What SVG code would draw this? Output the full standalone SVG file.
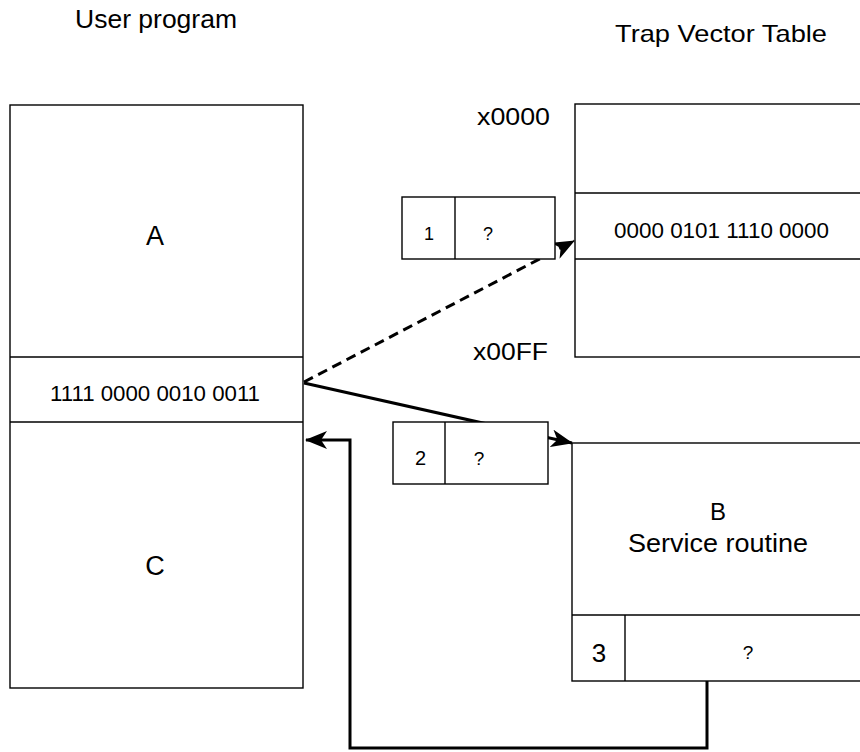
<svg xmlns="http://www.w3.org/2000/svg" width="860" height="752" viewBox="0 0 860 752">
<style>
.b{fill:#fff;stroke:#000;stroke-width:1.4}
.t{font-family:"Liberation Sans",Arial,sans-serif;fill:#000;text-anchor:middle}
.s{text-anchor:start}
.c{fill:none;stroke:#000;stroke-width:3}
</style>
<defs>
<marker id="ah" viewBox="0 0 22 18" refX="21" refY="9" markerWidth="22" markerHeight="18" orient="auto" markerUnits="userSpaceOnUse">
<path d="M0,0 L22,9 L0,18 L6,9 Z" fill="#000"/>
</marker>
</defs>
<rect width="860" height="752" fill="#fff"/>
<text class="t s" x="75" y="28" font-size="25" textLength="162" lengthAdjust="spacingAndGlyphs">User program</text>
<text class="t s" x="615" y="42" font-size="24" textLength="212" lengthAdjust="spacingAndGlyphs">Trap Vector Table</text>
<text class="t s" x="477" y="125" font-size="24" textLength="73" lengthAdjust="spacingAndGlyphs">x0000</text>
<text class="t s" x="473" y="360" font-size="24" textLength="75" lengthAdjust="spacingAndGlyphs">x00FF</text>
<g id="connectors">
<line class="c" x1="304" y1="382" x2="574" y2="241" stroke-dasharray="10,6" marker-end="url(#ah)"/>
<line class="c" x1="304" y1="383" x2="572" y2="443" marker-end="url(#ah)"/>
<path class="c" d="M707,681 V748 H350 V440 H306" marker-end="url(#ah)"/>
</g>
<g id="user-program">
<rect class="b" x="10" y="105" width="293" height="583"/>
<line class="b" x1="10" y1="357" x2="303" y2="357"/>
<line class="b" x1="10" y1="422" x2="303" y2="422"/>
<text class="t" x="155" y="245" font-size="27">A</text>
<text class="t s" x="50" y="401" font-size="22" textLength="210" lengthAdjust="spacingAndGlyphs">1111 0000 0010 0011</text>
<text class="t" x="155" y="575" font-size="27">C</text>
</g>
<g id="trap-vector-table">
<rect class="b" x="575" y="104" width="300" height="253"/>
<line class="b" x1="575" y1="193" x2="875" y2="193"/>
<line class="b" x1="575" y1="259" x2="875" y2="259"/>
<text class="t s" x="614" y="238" font-size="22" textLength="215" lengthAdjust="spacingAndGlyphs">0000 0101 1110 0000</text>
</g>
<g id="box1">
<rect class="b" x="402" y="197" width="153" height="62"/>
<line class="b" x1="455" y1="197" x2="455" y2="259"/>
<text class="t" x="429" y="240" font-size="18">1</text>
<text class="t" x="488" y="240" font-size="18">?</text>
</g>
<g id="box2">
<rect class="b" x="393" y="422" width="155" height="62"/>
<line class="b" x1="445" y1="422" x2="445" y2="484"/>
<text class="t" x="420.5" y="465" font-size="20">2</text>
<text class="t" x="479" y="465" font-size="19">?</text>
</g>
<g id="service-routine">
<rect class="b" x="572" y="443" width="300" height="238"/>
<line class="b" x1="572" y1="615" x2="872" y2="615"/>
<line class="b" x1="625" y1="615" x2="625" y2="681"/>
<text class="t" x="718" y="520" font-size="24">B</text>
<text class="t s" x="628" y="552" font-size="25" textLength="180" lengthAdjust="spacingAndGlyphs">Service routine</text>
<text class="t" x="599" y="662" font-size="26">3</text>
<text class="t" x="748" y="659" font-size="19">?</text>
</g>
</svg>
